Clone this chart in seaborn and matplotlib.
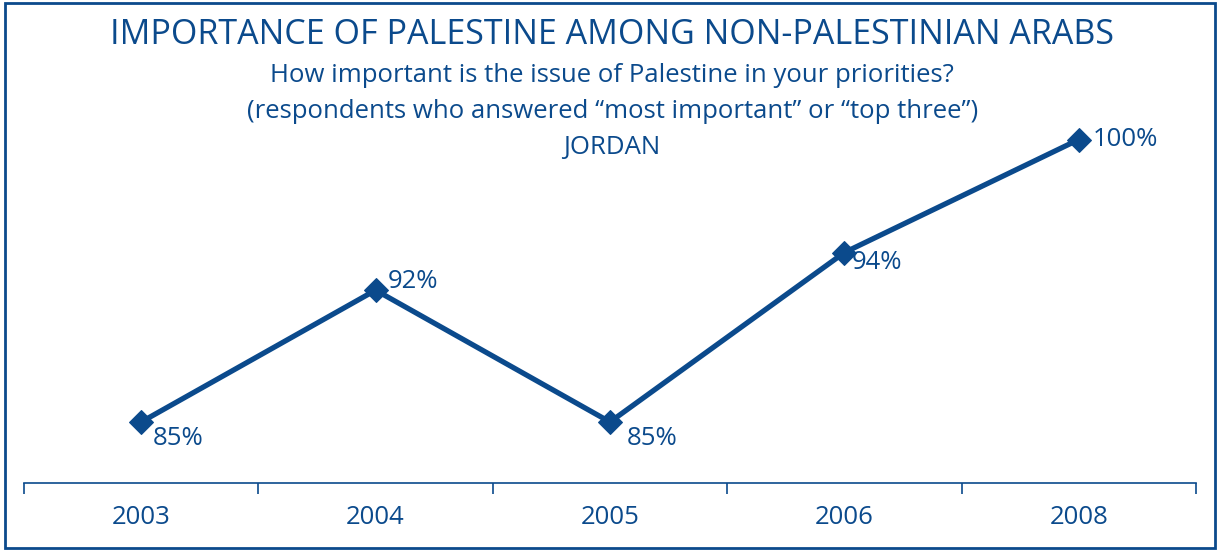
import matplotlib
matplotlib.use("Agg")
import matplotlib.pyplot as plt
import seaborn as sns
import pandas as pd
from matplotlib.patches import Rectangle

# data
years = ["2003", "2004", "2005", "2006", "2008"]
values = [85, 92, 85, 94, 100]
labels = ["85%", "92%", "85%", "94%", "100%"]
# label offsets in points (dx, dy) relative to each marker
label_offsets = [(8, -12), (9, 6), (12, -12), (5, -7), (10, 0)]

blue = "#0b4a8c"

sns.set_style("white")
plt.rcParams["font.family"] = ["Open Sans", "DejaVu Sans"]

df = pd.DataFrame({"year": years, "value": values})
df["pos"] = range(len(years))

fig = plt.figure(figsize=(12.17, 5.5), dpi=100)
ax = fig.add_axes([24 / 1217, 67 / 550, 1172 / 1217, 383 / 550])

sns.lineplot(data=df, x="pos", y="value", ax=ax, color=blue, linewidth=3.8,
             marker="D", markersize=12, markeredgecolor=blue)

for i, (v, lab) in enumerate(zip(values, labels)):
    dx, dy = label_offsets[i]
    ax.annotate(lab, (i, v), xytext=(dx, dy), textcoords="offset points",
                ha="left", va="center", fontsize=18.5, color=blue)

ax.set_xlim(-0.5, len(years) - 0.5)
ax.set_ylim(81.76, 102.1)
ax.set_xticks([i - 0.5 for i in range(len(years) + 1)], minor=False)
ax.set_xticklabels([])
ax.set_xticks(range(len(years)), minor=True)
ax.set_xticklabels(years, minor=True)
ax.tick_params(axis="x", which="major", bottom=True, direction="out", length=8, width=1.2, color=blue)
ax.tick_params(axis="x", which="minor", bottom=True, length=0, pad=16, labelsize=18.5, labelcolor=blue)
ax.set_yticks([])
ax.set_xlabel("")
ax.set_ylabel("")
for s in ["top", "right", "left"]:
    ax.spines[s].set_visible(False)
ax.spines["bottom"].set_color(blue)
ax.spines["bottom"].set_linewidth(1.2)

fig.text(0.503, 1 - 35 / 550, "IMPORTANCE OF PALESTINE AMONG NON-PALESTINIAN ARABS",
         ha="center", va="center", fontsize=24.5, color=blue)
fig.text(0.503, 1 - 75 / 550, "How important is the issue of Palestine in your priorities?",
         ha="center", va="center", fontsize=18.5, color=blue)
fig.text(0.503, 1 - 111 / 550, "(respondents who answered \u201cmost important\u201d or \u201ctop three\u201d)",
         ha="center", va="center", fontsize=18.5, color=blue)
fig.text(0.503, 1 - 147 / 550, "JORDAN", ha="center", va="center", fontsize=18.5, color=blue)

fig.patches.append(Rectangle((5 / 1217, 2 / 550), 1210 / 1217, 545 / 550,
                             transform=fig.transFigure, fill=False,
                             edgecolor=blue, linewidth=2))

fig.savefig("out.png", dpi=100)
